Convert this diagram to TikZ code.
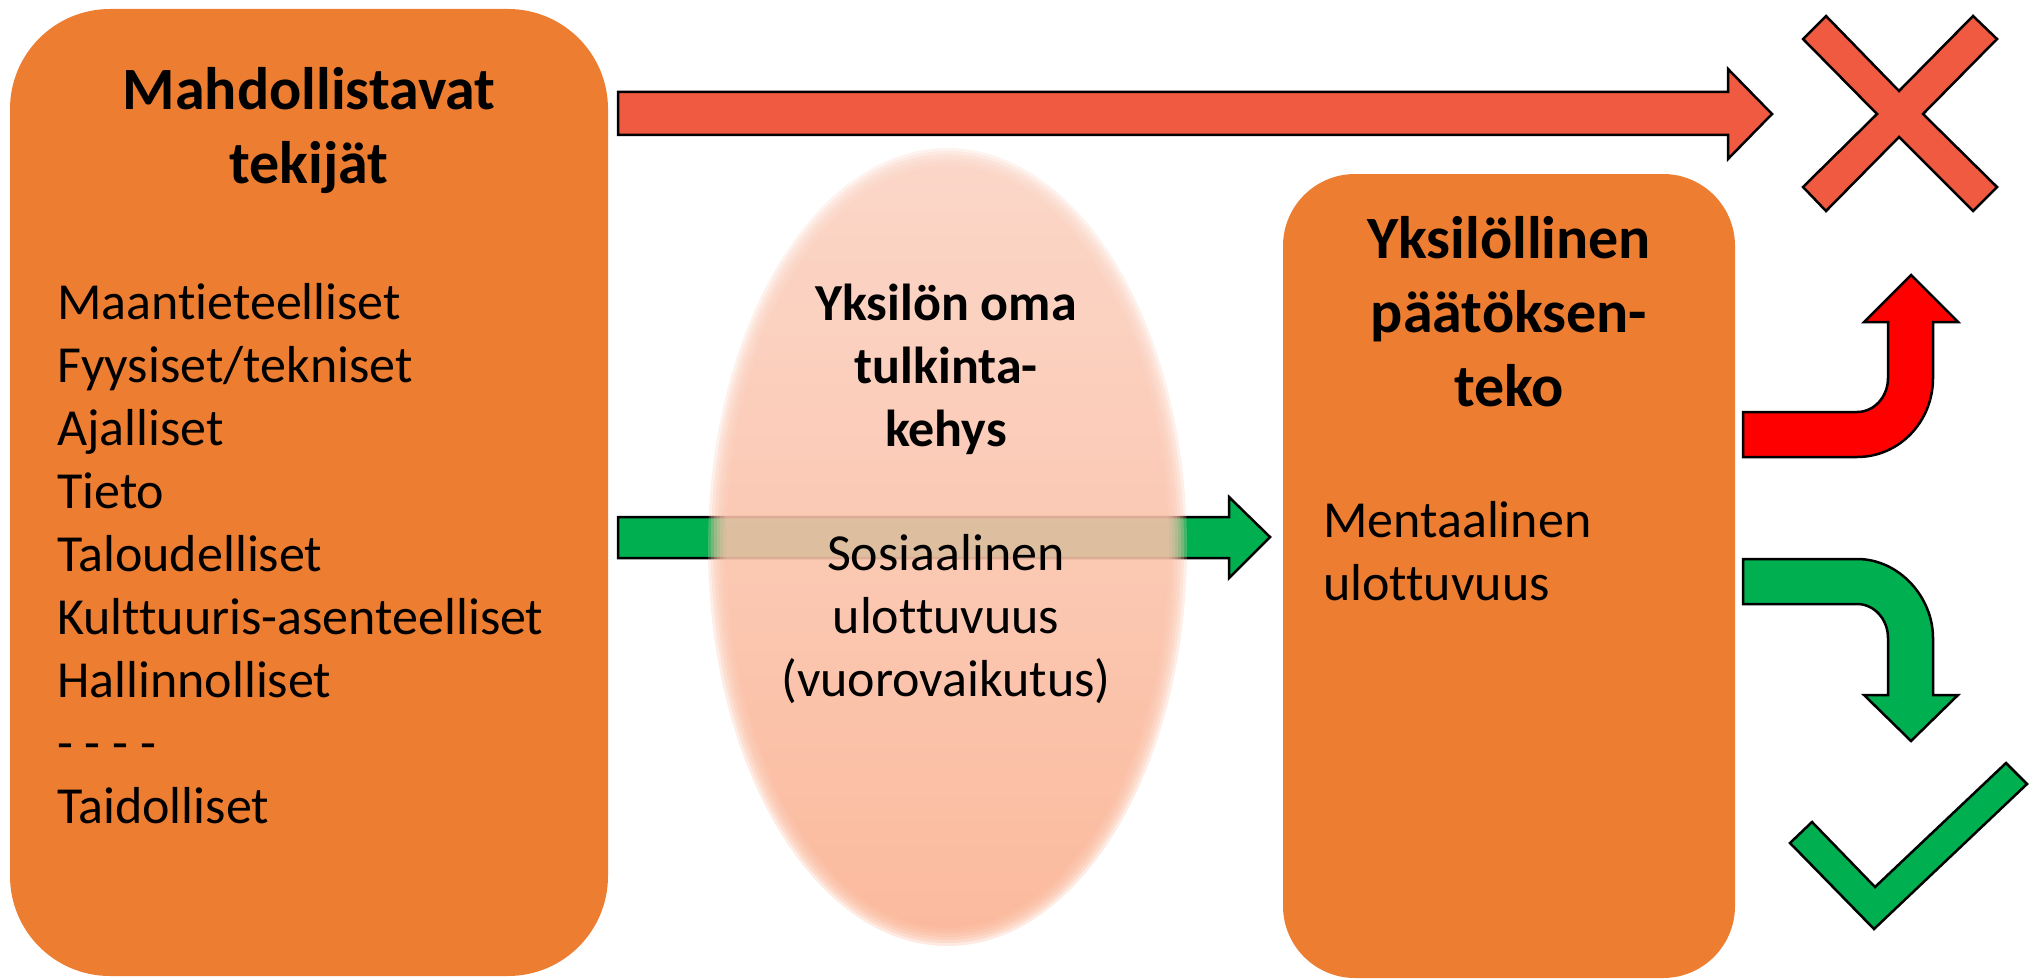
\documentclass[tikz,border=0pt]{standalone}
\usepackage{fontspec}
\setmainfont{Carlito}[Ligatures={NoCommon,NoRare,NoContextual}]
\usetikzlibrary{shapes.geometric}
\definecolor{boxorange}{RGB}{237,125,49}
\definecolor{xred}{RGB}{240,90,64}
\definecolor{pured}{RGB}{255,0,0}
\definecolor{okgreen}{RGB}{0,176,80}
\definecolor{elltop}{RGB}{250,210,194}
\definecolor{ellmid}{RGB}{250,178,146}
\tikzset{
  box/.style={fill=boxorange, draw=none, inner sep=0pt},
  shapeline/.style={draw=black, line width=2.5pt, line join=miter},
  big/.style={font=\fontsize{60}{74}\selectfont\bfseries, align=center, inner sep=0pt},
  body/.style={font=\fontsize{52}{63}\selectfont, inner sep=0pt},
  bodybold/.style={font=\fontsize{52}{63}\selectfont\bfseries, inner sep=0pt, align=center},
}
\begin{document}
\begin{tikzpicture}[x=1pt,y=-1pt]
\useasboundingbox (0,0) rectangle (2040,979);
% boxes
\node[box, rounded corners=100pt, minimum width=598pt, minimum height=967pt] (left) at (309,492.5) {};
\node[box, rounded corners=72pt, minimum width=452pt, minimum height=804pt] (right) at (1509,576) {};
% straight arrows
\draw[shapeline, fill=xred] (618,92) -- (1728,92) -- (1728,69) -- (1772,114) -- (1728,159) -- (1728,135) -- (618,135) -- cycle;
\draw[shapeline, fill=okgreen] (618,517) -- (1229,517) -- (1229,497) -- (1270,537) -- (1229,578) -- (1229,558) -- (618,558) -- cycle;
% ellipse
\node[ellipse, minimum width=479pt, minimum height=798pt, inner sep=0pt] (frame) at (947.5,547) {};
\foreach \i in {0,...,6} {
  \shade[top color=elltop, middle color=ellmid, bottom color=ellmid, opacity=0.27]
    (frame.center) ellipse [x radius={239.5pt-3pt*\i}, y radius={399pt-3pt*\i}];
}
% texts
\node[big] (ltitle) at (309,131.7) {\strut Mahdollistavat\\\strut tekijät};
\node[body, anchor=west, align=left] (llist) at (57,559) {\strut Maantieteelliset\\\strut Fyysiset/tekniset\\\strut Ajalliset\\\strut Tieto\\\strut Taloudelliset\\\strut Kulttuuris-asenteelliset\\\strut Hallinnolliset\\\strut - - - -\\\strut Taidolliset};
\node[bodybold] (etitle) at (946,370.5) {\strut Yksilön oma\\\strut tulkinta-\\\strut kehys};
\node[body, align=center] (ebody) at (946,620.5) {\strut Sosiaalinen\\\strut ulottuvuus\\\strut (vuorovaikutus)};
\node[big] (rtitle) at (1509,318) {\strut Yksilöllinen\\\strut päätöksen-\\\strut teko};
\node[body, anchor=west, align=left] (rbody) at (1323,556) {\strut Mentaalinen\\\strut ulottuvuus};
% bent arrows
\draw[shapeline, fill=pured] (1743,412) -- (1857,412) .. controls (1874,412) and (1888,397) .. (1888,378)
  -- (1888,322) -- (1864,322) -- (1911,275) -- (1958,322) -- (1933,322) -- (1933,378)
  .. controls (1933,422) and (1899,457) .. (1857,457) -- (1743,457) -- cycle;
\draw[shapeline, fill=okgreen] (1743,559) -- (1857,559) .. controls (1899,559) and (1933,597) .. (1933,638)
  -- (1933,695) -- (1958,695) -- (1911,741) -- (1864,695) -- (1888,695) -- (1888,638)
  .. controls (1888,619) and (1874,604) .. (1857,604) -- (1743,604) -- cycle;
% cross
\draw[shapeline, fill=xred] (1826,16) -- (1899,91) -- (1973,16) -- (1997,39) -- (1923,114) -- (1997,187)
  -- (1973,211) -- (1899,137) -- (1826,211) -- (1803,187) -- (1877,114) -- (1803,39) -- cycle;
% check
\draw[shapeline, fill=okgreen] (1812,822) -- (1875,887) -- (2006,763) -- (2027,784) -- (1874,929) -- (1790,843) -- cycle;
\end{tikzpicture}
\end{document}
